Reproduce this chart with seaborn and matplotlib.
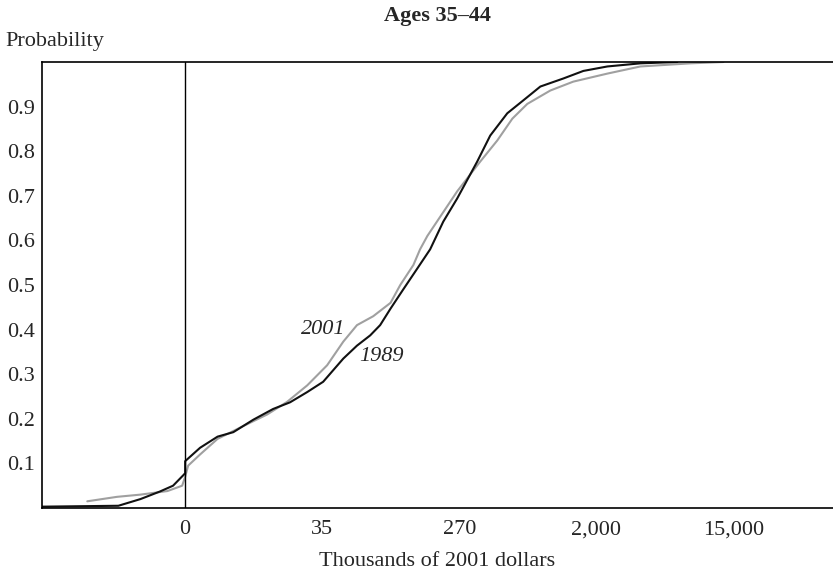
"""CDF of net worth, ages 35-44, 1989 vs 2001 (asinh-scaled dollar axis)."""
import numpy as np
import pandas as pd
import matplotlib
matplotlib.use('Agg')
import matplotlib.pyplot as plt
import seaborn as sns

# thousands of 2001 dollars, cumulative probability
x_1989 = [-38.4, -10.9, -6.7, -3.6, -1.7, -0.29, 0.0, 0.0, 2.1, 4.7, 7.3, 11.2, 16.0,
          21.2, 27.8, 35.5, 48.1, 59, 71.8, 83.2, 97, 117, 144, 174, 211, 259, 348, 421,
          541, 685, 880, 1233, 1656, 2356, 3828, 6593]
p_1989 = [0.003, 0.005, 0.02, 0.037, 0.05, 0.073, 0.078, 0.105, 0.135, 0.16, 0.17, 0.198,
          0.222, 0.237, 0.26, 0.283, 0.335, 0.364, 0.387, 0.41, 0.447, 0.49, 0.537,
          0.58, 0.642, 0.694, 0.777, 0.835, 0.885, 0.914, 0.945, 0.963, 0.98, 0.99, 0.997, 1.0]

x_2001 = [-18.9, -11.2, -6.7, -2.5, -0.42, 0.0, 0.42, 2.1, 4.7, 8.5, 14.5, 20.2, 27.8, 37.7,
          48.1, 59, 75.1, 97, 112, 136, 150, 167, 259, 364, 467, 583, 726, 1018, 1428,
          2356, 3828, 7980, 12980]
p_2001 = [0.015, 0.025, 0.03, 0.038, 0.05, 0.07, 0.095, 0.12, 0.155, 0.18, 0.21, 0.238,
          0.275, 0.32, 0.373, 0.41, 0.43, 0.46, 0.5, 0.545, 0.58, 0.61, 0.71, 0.777, 0.824,
          0.873, 0.906, 0.936, 0.956, 0.974, 0.99, 0.997, 1.0]

xticks = [0, 35, 270, 2000, 15000]
xtick_labels = ['0', '35', '270', '2,000', '15,000']
yticks = [0.1, 0.2, 0.3, 0.4, 0.5, 0.6, 0.7, 0.8, 0.9]

C = 9.5


def fwd(v):
    return np.arcsinh(np.asarray(v, dtype=float) / C)


def inv(v):
    return C * np.sinh(np.asarray(v, dtype=float))


sns.set_style('white')
plt.rcParams['font.family'] = ['Liberation Serif', 'DejaVu Serif']

fig = plt.figure(figsize=(8.33, 5.72), dpi=100)
ax = fig.add_axes([0.0504, 0.1119, 0.9496, 0.7797])

df89 = pd.DataFrame({'x': x_1989, 'p': p_1989})
df01 = pd.DataFrame({'x': x_2001, 'p': p_2001})
sns.lineplot(data=df01, x='x', y='p', sort=False, estimator=None, color='#a0a0a0', lw=1.5, ax=ax)
sns.lineplot(data=df89, x='x', y='p', sort=False, estimator=None, color='#111111', lw=1.5, ax=ax)

ax.set_xscale('function', functions=(fwd, inv))
ax.set_xlim(-38.4, 65000)
ax.set_ylim(0, 1)
ax.axvline(0, color='black', lw=1)

ax.set_xticks(xticks)
ax.set_xticklabels(xtick_labels)
ax.set_yticks(yticks)
ax.set_yticklabels([f'{t:.1f}' for t in yticks])
ax.tick_params(direction='in', length=6, width=1, labelsize=16, color='black')
ax.tick_params(axis='x', pad=9)
ax.tick_params(axis='y', pad=5)
ax.minorticks_off()

for s in ['left', 'top', 'bottom']:
    ax.spines[s].set_color('black')
    ax.spines[s].set_linewidth(1.2)
ax.spines['right'].set_visible(False)

ax.text(35.5, 0.40, '2001', style='italic', fontsize=16, ha='center', va='center')
ax.text(84.7, 0.34, '1989', style='italic', fontsize=16, ha='center', va='center')

ax.set_xlabel('Thousands of 2001 dollars', fontsize=16, labelpad=9)
ax.set_ylabel('')
fig.text(0.006, 0.928, 'Probability', fontsize=16, ha='left', va='center')
fig.text(0.525, 0.972, 'Ages 35–44', fontsize=16, fontweight='bold', ha='center', va='center')

fig.savefig('out.png', dpi=100)
